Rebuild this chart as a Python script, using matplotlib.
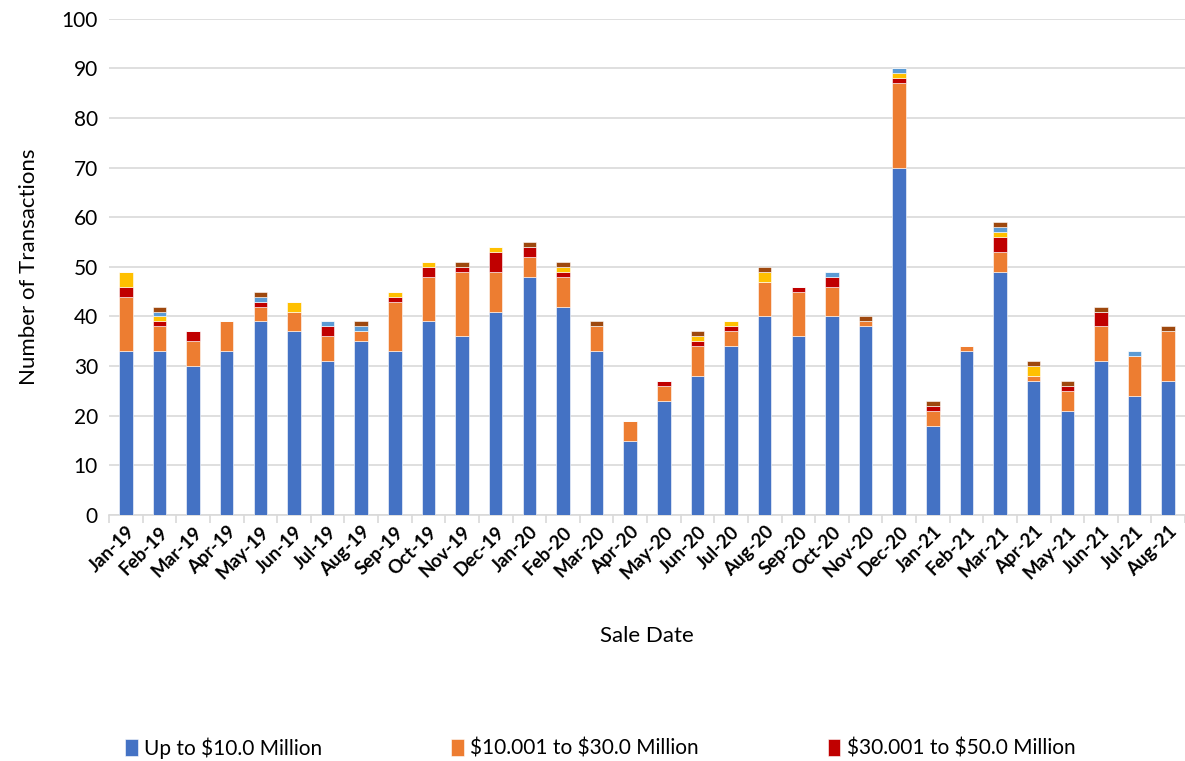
import matplotlib.pyplot as plt
import numpy as np

months = ["Jan-19", "Feb-19", "Mar-19", "Apr-19", "May-19", "Jun-19", "Jul-19", "Aug-19",
          "Sep-19", "Oct-19", "Nov-19", "Dec-19", "Jan-20", "Feb-20", "Mar-20", "Apr-20",
          "May-20", "Jun-20", "Jul-20", "Aug-20", "Sep-20", "Oct-20", "Nov-20", "Dec-20",
          "Jan-21", "Feb-21", "Mar-21", "Apr-21", "May-21", "Jun-21", "Jul-21", "Aug-21"]

up_to_10 = [33, 33, 30, 33, 39, 37, 31, 35, 33, 39, 36, 41, 48, 42, 33, 15,
            23, 28, 34, 40, 36, 40, 38, 70, 18, 33, 49, 27, 21, 31, 24, 27]
m10_30 = [11, 5, 5, 6, 3, 4, 5, 2, 10, 9, 13, 8, 4, 6, 5, 4,
          3, 6, 3, 7, 9, 6, 1, 17, 3, 1, 4, 1, 4, 7, 8, 10]
m30_50 = [2, 1, 2, 0, 1, 0, 2, 0, 1, 2, 1, 4, 2, 1, 0, 0,
          1, 1, 1, 0, 1, 2, 0, 1, 1, 0, 3, 0, 1, 3, 0, 0]
m50_100 = [3, 1, 0, 0, 0, 2, 0, 0, 1, 1, 0, 1, 0, 1, 0, 0,
           0, 1, 1, 2, 0, 0, 0, 1, 0, 0, 1, 2, 0, 0, 0, 0]
m100_250 = [0, 1, 0, 0, 1, 0, 1, 1, 0, 0, 0, 0, 0, 0, 0, 0,
            0, 0, 0, 0, 0, 1, 0, 1, 0, 0, 1, 0, 0, 0, 1, 0]
over_250 = [0, 1, 0, 0, 1, 0, 0, 1, 0, 0, 1, 0, 1, 1, 1, 0,
            0, 1, 0, 1, 0, 0, 1, 0, 1, 0, 1, 1, 1, 1, 0, 1]

series = [
    (r"Up to \$10.0 Million", up_to_10, "#4472C4"),
    (r"\$10.001 to \$30.0 Million", m10_30, "#ED7D31"),
    (r"\$30.001 to \$50.0 Million", m30_50, "#C00000"),
    (r"_\$50.001 to \$100.0 Million", m50_100, "#FFC000"),
    (r"_\$100.001 to \$250.0 Million", m100_250, "#5B9BD5"),
    (r"_Over \$250.0 Million", over_250, "#9E480E"),
]

plt.rcParams['font.family'] = ['Lato', 'DejaVu Sans']

fig = plt.figure(figsize=(11.85, 7.61), dpi=100)
ax = fig.add_axes([0.092, 0.3233, 0.908, 0.652])

x = np.arange(len(months))
bottom = np.zeros(len(months))
for label, vals, color in series:
    vals = np.array(vals)
    ax.bar(x, vals, width=0.4, bottom=bottom, color=color, label=label,
           edgecolor="white", linewidth=0.4, zorder=3)
    bottom += vals

ax.set_xlim(-0.5, len(months) - 0.5)
ax.set_ylim(0, 100)
ax.set_yticks(range(0, 101, 10))
ax.yaxis.grid(True, color="#D9D9D9", linewidth=1.2, zorder=0)
ax.tick_params(axis="y", length=0, labelsize=15, pad=8)

ax.set_xticks(x)
ax.set_xticklabels(months, rotation=45, ha="right", rotation_mode="anchor",
                   fontsize=13.5, fontweight="bold")
ax.set_xticks(np.arange(-0.5, len(months), 1), minor=True)
ax.tick_params(axis="x", which="major", length=0, pad=6)
ax.tick_params(axis="x", which="minor", length=6, color="#D9D9D9", width=1.2)

for s in ["left", "right", "top"]:
    ax.spines[s].set_visible(False)
ax.spines["bottom"].set_color("#D9D9D9")
ax.spines["bottom"].set_linewidth(1.2)

ax.set_ylabel("Number of Transactions", fontsize=16, labelpad=16)
ax.set_xlabel("Sale Date", fontsize=16, labelpad=32)

fig.legend(loc="lower left", bbox_to_anchor=(0.09, -0.022), ncol=3, frameon=False,
           fontsize=15, handlelength=0.6, handleheight=0.9, handletextpad=0.3,
           columnspacing=6.2)

fig.savefig("out.png", dpi=100)
